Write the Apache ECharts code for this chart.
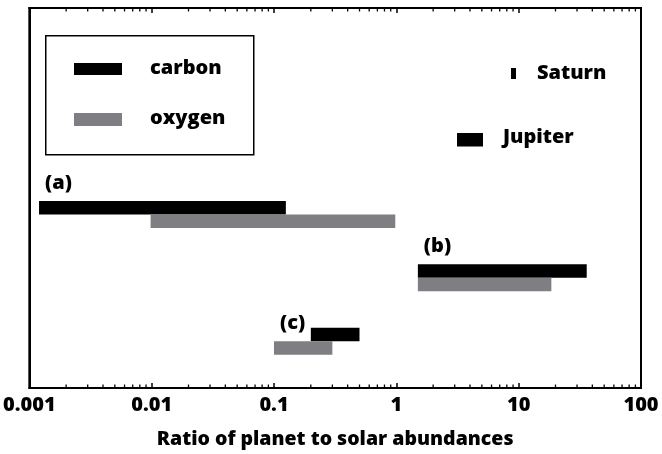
<!DOCTYPE html>
<html>
<head>
<meta charset="utf-8">
<script src="https://cdn.jsdelivr.net/npm/echarts@6/dist/echarts.min.js"></script>
<style>html,body{margin:0;padding:0;background:#fff}#c{width:662px;height:454px}</style>
</head>
<body>
<div id="c"></div>
<script>
// ---- data ----
const groups = ['(a)', '(b)', '(c)'];
const carbonLow  = [0.0012, 1.5, 0.2];
const carbonHigh = [0.125, 36, 0.5];
const oxygenLow  = [0.0098, 1.5, 0.1];
const oxygenHigh = [0.98, 18.5, 0.3];
const xTickLabels = ['0.001', '0.01', '0.1', '1', '10', '100'];
const minorTickValues = [
  0.002,0.003,0.004,0.005,0.006,0.007,0.008,0.009,
  0.02,0.03,0.04,0.05,0.06,0.07,0.08,0.09,
  0.2,0.3,0.4,0.5,0.6,0.7,0.8,0.9,
  2,3,4,5,6,7,8,9,
  20,30,40,50,60,70,80,90
];

const FONT = '"Open Sans", sans-serif';
const WEIGHT = 800;
const BLACK = '#000000';
const GRAY = '#7f7f83';
const BAR_H = 13.5;
const TXT = WEIGHT + ' 20px ' + FONT;
const MID = 7; // distance from baseline up to text middle

const chart = echarts.init(document.getElementById('c'), null, {renderer: 'canvas'});

const carbonData = groups.map((g, i) => [carbonLow[i], carbonHigh[i], i]);
const oxygenData = groups.map((g, i) => [oxygenLow[i], oxygenHigh[i], i]);
const labelData = groups.map((g, i) => [Math.min(carbonLow[i], oxygenLow[i]), i, carbonLow[i] <= oxygenLow[i] ? 1 : 0]);

function rangeRenderer(above, color) {
  return function (params, api) {
    const s = api.coord([api.value(0), api.value(2)]);
    const e = api.coord([api.value(1), api.value(2)]);
    return {
      type: 'rect',
      shape: {x: s[0], y: above ? s[1] - BAR_H : s[1], width: e[0] - s[0], height: BAR_H},
      style: {fill: color}
    };
  };
}

function label(text, x, baseline) {
  return {type: 'text', x: x, y: baseline - MID, z: 11,
    style: {text: text, fill: BLACK, font: TXT, align: 'left', verticalAlign: 'middle'}};
}

const option = {
  animation: false,
  backgroundColor: '#ffffff',
  grid: {left: 27, right: 21, top: 8, bottom: 53, show: true, borderColor: BLACK, borderWidth: 2, backgroundColor: 'transparent'},
  xAxis: [{
    type: 'log', logBase: 10, min: 0.001, max: 100, position: 'bottom',
    axisLine: {show: true, onZero: false, lineStyle: {color: BLACK, width: 2}},
    axisTick: {show: true, inside: true, length: 5, lineStyle: {color: BLACK, width: 1.5}},
    axisLabel: {show: true, color: BLACK, fontFamily: FONT, fontWeight: WEIGHT, fontSize: 20, margin: 7,
      formatter: function (v) { const k = Math.round(Math.log10(v)) + 3; return xTickLabels[k] || ''; }},
    splitLine: {show: false},
    name: 'Ratio of planet to solar abundances', nameLocation: 'middle', nameGap: 41,
    nameTextStyle: {color: BLACK, fontFamily: FONT, fontWeight: WEIGHT, fontSize: 19.5}
  }, {
    type: 'log', logBase: 10, min: 0.001, max: 100, position: 'top',
    axisLine: {show: true, onZero: false, lineStyle: {color: BLACK, width: 2}},
    axisTick: {show: true, inside: true, length: 5, lineStyle: {color: BLACK, width: 1.5}},
    axisLabel: {show: false}, splitLine: {show: false}
  }],
  yAxis: [{
    type: 'value', min: -3.26, max: 2.74, inverse: true,
    axisLine: {show: true, onZero: false, lineStyle: {color: BLACK, width: 2}},
    axisTick: {show: false}, axisLabel: {show: false}, splitLine: {show: false}
  }],
  series: [{
    name: 'carbon', type: 'custom', xAxisIndex: 0, yAxisIndex: 0,
    encode: {x: [0, 1], y: 2}, data: carbonData,
    renderItem: rangeRenderer(true, BLACK), z: 3
  }, {
    name: 'oxygen', type: 'custom', xAxisIndex: 0, yAxisIndex: 0,
    encode: {x: [0, 1], y: 2}, data: oxygenData,
    renderItem: rangeRenderer(false, GRAY), z: 3
  }, {
    name: 'labels', type: 'custom', xAxisIndex: 0, yAxisIndex: 0,
    encode: {x: 0, y: 1}, data: labelData,
    renderItem: function (params, api) {
      const p = api.coord([api.value(0), api.value(1)]);
      const topUnder = api.value(2) ? p[1] - BAR_H : p[1];
      return {
        type: 'text',
        style: {x: p[0] + 6, y: topUnder - 11 - MID, text: groups[params.dataIndex], fill: BLACK,
          font: TXT, align: 'left', verticalAlign: 'middle'}
      };
    }, z: 4
  }, {
    name: 'minorTicks', type: 'custom', xAxisIndex: 0, yAxisIndex: 0,
    encode: {x: 0}, data: minorTickValues.map(v => [v]),
    renderItem: function (params, api) {
      const cs = params.coordSys;
      const x = api.coord([api.value(0), 0])[0];
      return {
        type: 'group',
        children: [
          {type: 'line', shape: {x1: x, y1: cs.y + cs.height, x2: x, y2: cs.y + cs.height - 3.5}, style: {stroke: BLACK, lineWidth: 1.3}},
          {type: 'line', shape: {x1: x, y1: cs.y, x2: x, y2: cs.y + 3.5}, style: {stroke: BLACK, lineWidth: 1.3}}
        ]
      };
    }, z: 5
  }],
  graphic: [
    {type: 'rect', left: 45, top: 35, shape: {width: 208, height: 119}, style: {fill: '#fff', stroke: BLACK, lineWidth: 1.5}, z: 10},
    {type: 'rect', left: 74, top: 63, shape: {width: 48, height: 12}, style: {fill: BLACK}, z: 11},
    {type: 'rect', left: 74, top: 113, shape: {width: 48, height: 13}, style: {fill: GRAY}, z: 11},
    label('carbon', 150, 75),
    label('oxygen', 150, 125),
    {type: 'rect', left: 511, top: 68, shape: {width: 5, height: 11}, style: {fill: BLACK}, z: 11},
    label('Saturn', 537, 80),
    {type: 'rect', left: 457, top: 133, shape: {width: 26, height: 13.5}, style: {fill: BLACK}, z: 11},
    label('Jupiter', 503, 144)
  ]
};
chart.setOption(option);
</script>
</body>
</html>
